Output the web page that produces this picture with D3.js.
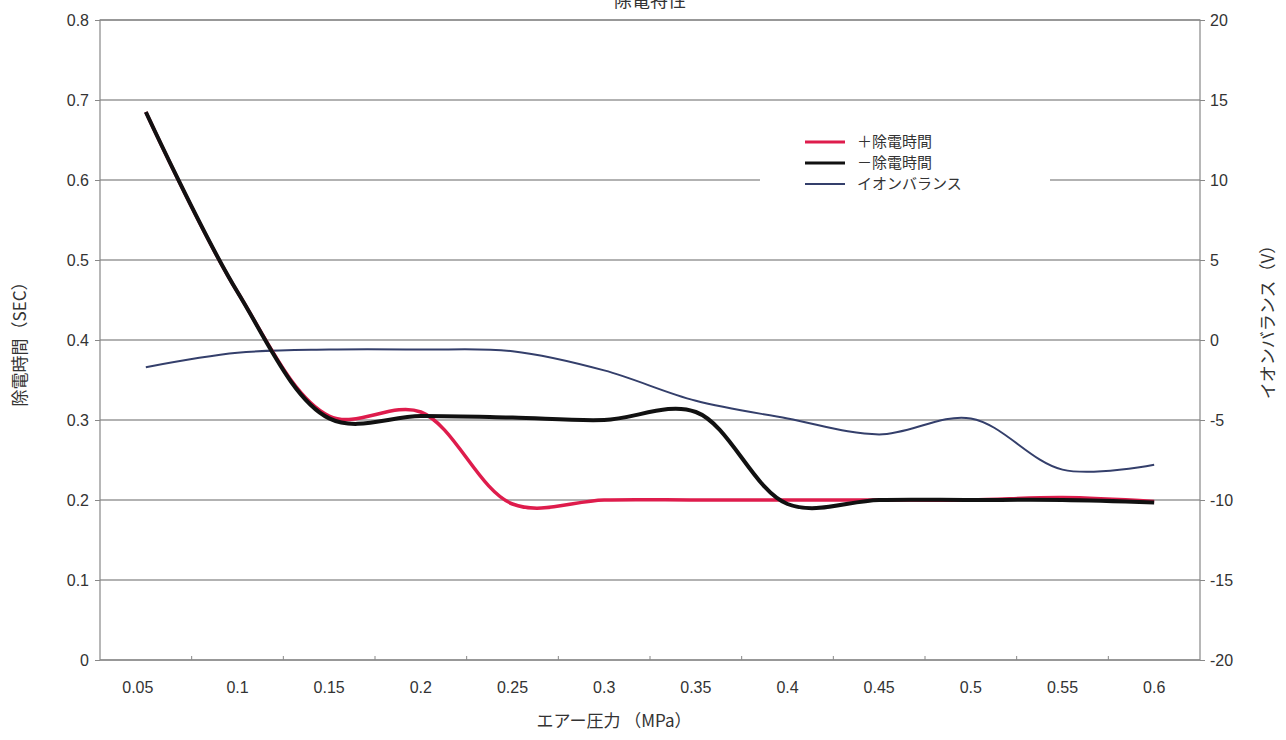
<!DOCTYPE html>
<html>
<head>
<meta charset="utf-8">
<script src="https://cdn.jsdelivr.net/npm/d3@7"></script>
<style>
  body { margin: 0; background: #fff; }
  text { font-family: "Liberation Sans", "Noto Sans CJK JP", sans-serif; fill: #333; }
  .jp { font-family: "Noto Sans CJK JP", sans-serif; }
</style>
</head>
<body>
<div id="chart"></div>
<script>
// air pressure (MPa) categories
const pressures = ["0.05", "0.1", "0.15", "0.2", "0.25", "0.3", "0.35", "0.4", "0.45", "0.5", "0.55", "0.6"];
// + discharge time (sec)
const plusTime = [0.685, 0.46, 0.305, 0.31, 0.195, 0.2, 0.2, 0.2, 0.2, 0.2, 0.203, 0.198];
// - discharge time (sec)
const minusTime = [0.685, 0.46, 0.302, 0.305, 0.303, 0.30, 0.31, 0.195, 0.2, 0.2, 0.2, 0.197];
// ion balance (V)
const ionBalance = [-1.7, -0.8, -0.6, -0.6, -0.7, -1.9, -3.8, -4.9, -5.9, -4.9, -8.1, -7.8];
const leftTicks = [0, 0.1, 0.2, 0.3, 0.4, 0.5, 0.6, 0.7, 0.8];
const rightTicks = [-20, -15, -10, -5, 0, 5, 10, 15, 20];

const W = 1286, H = 740;
const margin = { top: 20, right: 86, bottom: 80, left: 100 },
  width = W - margin.left - margin.right,
  height = H - margin.top - margin.bottom;

const svgRoot = d3.select("#chart").append("svg")
  .attr("width", W).attr("height", H);

// title (cut off at the top edge, as in the original)
svgRoot.append("text")
  .attr("class", "jp")
  .attr("x", 650).attr("y", 7)
  .attr("text-anchor", "middle")
  .style("font-size", "18px")
  .text("除電特性");

const svg = svgRoot.append("g")
  .attr("transform", `translate(${margin.left}, ${margin.top})`);

const x = d3.scaleBand().domain(pressures).range([0, width]);
const y = d3.scaleLinear().domain([0, 0.8]).range([height, 0]);
const y2 = d3.scaleLinear().domain([-20, 20]).range([height, 0]);

// grid lines
svg.append("g")
  .selectAll("line")
  .data(leftTicks)
  .join("line")
  .attr("x1", 0).attr("x2", width)
  .attr("y1", d => y(d)).attr("y2", d => y(d))
  .attr("stroke", "#666").attr("stroke-width", 1.2);

// frame
svg.append("rect")
  .attr("width", width).attr("height", height)
  .attr("fill", "none").attr("stroke", "#888").attr("stroke-width", 1.2);

// left axis
const leftAxis = svg.append("g")
  .call(d3.axisLeft(y).tickValues(leftTicks).tickSize(5).tickPadding(6).tickFormat(d => String(+d.toFixed(1))));
leftAxis.select(".domain").remove();
leftAxis.selectAll("line").attr("stroke", "#888");
leftAxis.selectAll("text").style("font-size", "16px").attr("fill", "#333");

// right axis
const rightAxis = svg.append("g")
  .attr("transform", `translate(${width}, 0)`)
  .call(d3.axisRight(y2).tickValues(rightTicks).tickSize(5).tickPadding(5).tickFormat(d => String(d)));
rightAxis.select(".domain").remove();
rightAxis.selectAll("line").attr("stroke", "#888");
rightAxis.selectAll("text").style("font-size", "16px").attr("fill", "#333");

// bottom axis
const bottomAxis = svg.append("g")
  .attr("transform", `translate(0, ${height})`)
  .call(d3.axisBottom(x).tickSize(0).tickPadding(22));
bottomAxis.select(".domain").remove();
bottomAxis.selectAll("text").style("font-size", "16px").attr("fill", "#333")
  .attr("dx", (d, i) => i === 0 ? -8 : 0);
svg.append("g")
  .selectAll("line")
  .data(pressures.slice(1))
  .join("line")
  .attr("x1", d => x(d)).attr("x2", d => x(d))
  .attr("y1", height).attr("y2", height - 4)
  .attr("stroke", "#888");

// axis titles
svg.append("text")
  .attr("class", "jp")
  .attr("transform", `translate(${-margin.left + 26}, ${height / 2}) rotate(-90)`)
  .attr("text-anchor", "middle")
  .style("font-size", "17px")
  .text("除電時間（SEC）");

svg.append("text")
  .attr("class", "jp")
  .attr("transform", `translate(${width + 74}, ${height / 2 - 22}) rotate(-90)`)
  .attr("text-anchor", "middle")
  .style("font-size", "17px")
  .text("イオンバランス（V）");

svg.append("text")
  .attr("class", "jp")
  .attr("x", width / 2 - 36).attr("y", height + 67)
  .attr("text-anchor", "middle")
  .style("font-size", "17px")
  .text("エアー圧力 （MPa）");

const cx = d => x(d) + x.bandwidth() / 2;
const line = d3.line().curve(d3.curveCatmullRom.alpha(0.5));

svg.append("path")
  .attr("d", line(pressures.map((p, i) => [cx(p), y2(ionBalance[i])])))
  .attr("fill", "none").attr("stroke", "#343f6b").attr("stroke-width", 2);

svg.append("path")
  .attr("d", line(pressures.map((p, i) => [cx(p), y(plusTime[i])])))
  .attr("fill", "none").attr("stroke", "#de1c4c").attr("stroke-width", 3.5);

svg.append("path")
  .attr("d", line(pressures.map((p, i) => [cx(p), y(minusTime[i])])))
  .attr("fill", "none").attr("stroke", "#111").attr("stroke-width", 4);

// legend
const legendItems = [
  { name: "＋除電時間", color: "#de1c4c", w: 3 },
  { name: "－除電時間", color: "#111", w: 3 },
  { name: "イオンバランス", color: "#343f6b", w: 2 }
];
const legend = svg.append("g").attr("transform", "translate(660, 110)");
legend.append("rect")
  .attr("x", 0).attr("y", 0).attr("width", 290).attr("height", 84)
  .attr("fill", "#fff");
legend.selectAll("g")
  .data(legendItems)
  .join("g")
  .attr("transform", (d, i) => `translate(0, ${12 + i * 21})`)
  .each(function (d) {
    const g = d3.select(this);
    g.append("line")
      .attr("x1", 45).attr("x2", 85).attr("y1", 0).attr("y2", 0)
      .attr("stroke", d.color).attr("stroke-width", d.w);
    g.append("text")
      .attr("class", "jp")
      .attr("x", 97).attr("y", 5)
      .style("font-size", "15px")
      .text(d.name);
  });
</script>
</body>
</html>
